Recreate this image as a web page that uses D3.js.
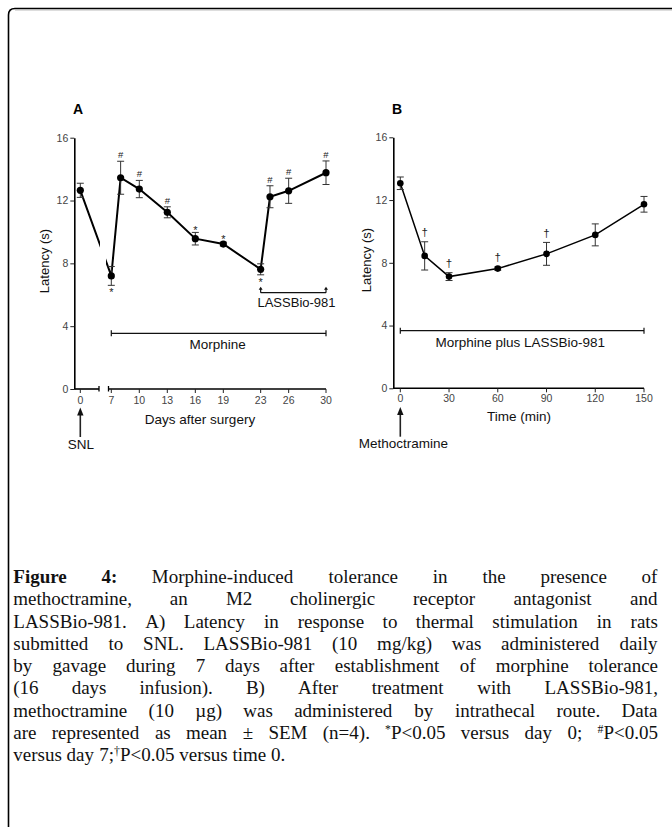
<!DOCTYPE html>
<html><head><meta charset="utf-8">
<script src="https://cdn.jsdelivr.net/npm/d3@7"></script>
<style>
html,body{margin:0;padding:0;background:#fff;}
svg{display:block;}
</style></head>
<body>
<svg id="c" width="672" height="827"></svg>
<script>
// ---------- DATA ----------
const daysA = [0, 7, 8, 10, 13, 16, 19, 23, 24, 26, 30];
const latencyA = [12.65, 7.2, 13.45, 12.73, 11.25, 9.57, 9.23, 7.62, 12.24, 12.62, 13.77];
const semA = [0.45, 0.6, 1.05, 0.55, 0.35, 0.4, 0.12, 0.35, 0.7, 0.8, 0.75];
const sigA = ["", "*", "#", "#", "#", "*", "*", "*", "#", "#", "#"];
const sigBelowA = [false, true, false, false, false, false, false, true, false, false, false];
const tickDaysA = [0, 7, 10, 13, 16, 19, 23, 26, 30];

const timeB = [0, 15, 30, 60, 90, 120, 150];
const latencyB = [13.07, 8.44, 7.12, 7.63, 8.57, 9.78, 11.73];
const semB = [0.4, 0.9, 0.25, 0.1, 0.73, 0.7, 0.5];
const sigB = ["", "†", "†", "†", "†", "", ""];
const tickTimeB = [0, 30, 60, 90, 120, 150];
const tickLatency = [0, 4, 8, 12, 16];

const captionLines = [
  [[{t:"Figure", b:1}], [{t:"4:", b:1}], "Morphine-induced", "tolerance", "in", "the", "presence", "of"],
  ["methoctramine,", "an", "M2", "cholinergic", "receptor", "antagonist", "and"],
  ["LASSBio-981.", "A)", "Latency", "in", "response", "to", "thermal", "stimulation", "in", "rats"],
  ["submitted", "to", "SNL.", "LASSBio-981", "(10", "mg/kg)", "was", "administered", "daily"],
  ["by", "gavage", "during", "7", "days", "after", "establishment", "of", "morphine", "tolerance"],
  ["(16", "days", "infusion).", "B)", "After", "treatment", "with", "LASSBio-981,"],
  ["methoctramine", "(10", "µg)", "was", "administered", "by", "intrathecal", "route.", "Data"],
  ["are", "represented", "as", "mean", "±", "SEM", "(n=4).", [{t:"*", s:1}, {t:"P<0.05"}], "versus", "day", [{t:"0;"}], [{t:"#", s:1}, {t:"P<0.05"}]],
  ["versus", "day", [{t:"7;"}, {t:"†", s:1}, {t:"P<0.05"}], "versus", "time", "0."]
];

// ---------- SETUP ----------
const svg = d3.select("#c");
const SANS = "'Liberation Sans', Arial, sans-serif";
const SERIF = "'Liberation Serif', 'Times New Roman', serif";
const ink = "#111";

// frame
svg.append("path")
  .attr("d", "M8.5,827 L8.5,15 Q8.5,8.5 15,8.5 L672,8.5")
  .attr("fill", "none").attr("stroke", "#000").attr("stroke-width", 1.6);
svg.append("line").attr("x1", 15).attr("x2", 672).attr("y1", 10).attr("y2", 10)
  .attr("stroke", "#aaa").attr("stroke-width", 0.8);

// ---------- PANEL A ----------
const gA = svg.append("g");
const xA = d3.scaleLinear().domain([0, 2, 6.7, 30]).range([80.3, 99, 108.5, 326]);
const yA = d3.scaleLinear().domain([0, 16]).range([389, 137.7]);
const axisXA0 = 74.3;

gA.append("g").attr("transform", `translate(${axisXA0},0)`)
  .call(d3.axisLeft(yA).tickValues(tickLatency).tickSize(4).tickSizeOuter(0).tickPadding(2))
  .call(g => {
    g.select(".domain").attr("stroke", "#000").attr("stroke-width", 1.6);
    g.selectAll(".tick line").attr("stroke", "#222");
    g.selectAll("text").attr("font-family", SANS).attr("font-size", 10.5).attr("fill", "#444");
  });

const xAxisA = gA.append("g").attr("transform", `translate(0,${yA(0)})`);
xAxisA.append("line").attr("x1", axisXA0).attr("x2", xA(2)).attr("stroke", "#000").attr("stroke-width", 1.6);
xAxisA.append("line").attr("x1", xA(6.7)).attr("x2", xA(30)).attr("stroke", "#000").attr("stroke-width", 1.6);
[2, 6.7].forEach(d => xAxisA.append("line").attr("x1", xA(d)).attr("x2", xA(d)).attr("y1", -3).attr("y2", 2.5)
  .attr("stroke", "#000").attr("stroke-width", 1.3));
xAxisA.selectAll(".tk").data(tickDaysA).join("line")
  .attr("x1", d => xA(d)).attr("x2", d => xA(d)).attr("y1", 0).attr("y2", 4)
  .attr("stroke", "#222").attr("stroke-width", 1);
xAxisA.selectAll(".tl").data(tickDaysA).join("text")
  .attr("x", d => xA(d)).attr("y", 15).attr("text-anchor", "middle")
  .attr("font-family", SANS).attr("font-size", 10.5).attr("fill", "#444").text(d => d);

gA.append("text").attr("transform", `translate(49,261) rotate(-90)`).attr("text-anchor", "middle")
  .attr("font-family", SANS).attr("font-size", 13).attr("fill", ink).text("Latency (s)");
gA.append("text").attr("x", 78).attr("y", 114).attr("text-anchor", "middle")
  .attr("font-family", SANS).attr("font-weight", "bold").attr("font-size", 14).attr("fill", "#000").text("A");
gA.append("text").attr("x", 200).attr("y", 424).attr("text-anchor", "middle")
  .attr("font-family", SANS).attr("font-size", 13.5).attr("fill", ink).text("Days after surgery");

const defs = svg.append("defs");
const cp = defs.append("clipPath").attr("id", "brk");
cp.append("rect").attr("x", 0).attr("y", 0).attr("width", 100).attr("height", 827);
cp.append("rect").attr("x", 106).attr("y", 0).attr("width", 566).attr("height", 827);

const ptsA = daysA.map((d, i) => ({x: d, y: latencyA[i], e: semA[i], s: sigA[i], below: sigBelowA[i]}));
const lineA = d3.line().x(d => xA(d.x)).y(d => yA(d.y));
gA.append("path").attr("d", lineA(ptsA)).attr("fill", "none").attr("stroke", "#000")
  .attr("stroke-width", 2).attr("clip-path", "url(#brk)");

function errBars(g, pts, xs, ys, cap) {
  const eb = g.append("g").attr("stroke", "#333").attr("stroke-width", 1).attr("fill", "none");
  pts.forEach(d => {
    const x = xs(d.x), y1 = ys(d.y + d.e), y2 = ys(d.y - d.e);
    eb.append("line").attr("x1", x).attr("x2", x).attr("y1", y1).attr("y2", y2);
    eb.append("line").attr("x1", x - cap).attr("x2", x + cap).attr("y1", y1).attr("y2", y1);
    eb.append("line").attr("x1", x - cap).attr("x2", x + cap).attr("y1", y2).attr("y2", y2);
  });
}
errBars(gA, ptsA, xA, yA, 3.5);
gA.selectAll("circle").data(ptsA).join("circle")
  .attr("cx", d => xA(d.x)).attr("cy", d => yA(d.y)).attr("r", 3.6).attr("fill", "#000");

const sigFont = {"#": 9.5, "*": 11, "†": 11.5};
const sigBase = {"#": 0.36, "*": 0.6, "†": 0.3};
const sigGap = {"#": -6.5, "*": -5.5, "†": -9};
function sigMarks(g, pts, xs, ys) {
  pts.filter(d => d.s).forEach(d => {
    const fs = sigFont[d.s];
    const c = d.below ? ys(d.y - d.e) + 4.5 : ys(d.y + d.e) + sigGap[d.s];
    g.append("text").attr("x", xs(d.x)).attr("y", c + sigBase[d.s] * fs).attr("text-anchor", "middle")
      .attr("font-family", SANS).attr("font-size", fs).attr("fill", "#222").text(d.s);
  });
}
sigMarks(gA, ptsA, xA, yA);

const bY = 292.7;
gA.append("line").attr("x1", xA(23)).attr("x2", xA(30)).attr("y1", bY).attr("y2", bY).attr("stroke", "#111").attr("stroke-width", 1.2);
[23, 30].forEach(d => {
  const x = xA(d);
  gA.append("line").attr("x1", x).attr("x2", x).attr("y1", bY).attr("y2", bY - 4).attr("stroke", "#111").attr("stroke-width", 1.2);
  gA.append("path").attr("d", `M${x - 2},${bY - 3} L${x},${bY - 6} L${x + 2},${bY - 3} Z`).attr("fill", "#111");
});
gA.append("text").attr("x", 296.5).attr("y", 307.3).attr("text-anchor", "middle")
  .attr("font-family", SANS).attr("font-size", 13).attr("fill", ink).text("LASSBio-981");

function bracket(g, x1, x2, y) {
  g.append("line").attr("x1", x1).attr("x2", x2).attr("y1", y).attr("y2", y).attr("stroke", "#111").attr("stroke-width", 1.3);
  [x1, x2].forEach(x => g.append("line").attr("x1", x).attr("x2", x).attr("y1", y - 3).attr("y2", y + 3).attr("stroke", "#111").attr("stroke-width", 1.2));
}
bracket(gA, xA(7), xA(30), 333.3);
gA.append("text").attr("x", 217.6).attr("y", 349).attr("text-anchor", "middle")
  .attr("font-family", SANS).attr("font-size", 13.5).attr("fill", ink).text("Morphine");

function upArrow(g, x, yTip, yEnd) {
  g.append("line").attr("x1", x).attr("x2", x).attr("y1", yTip + 5).attr("y2", yEnd).attr("stroke", "#222").attr("stroke-width", 1.6);
  g.append("path").attr("d", `M${x - 3.2},${yTip + 8} L${x},${yTip} L${x + 3.2},${yTip + 8} Z`).attr("fill", "#111");
}
upArrow(gA, xA(0), 407.5, 437);
gA.append("text").attr("x", 81).attr("y", 449).attr("text-anchor", "middle")
  .attr("font-family", SANS).attr("font-size", 13.5).attr("fill", ink).text("SNL");

// ---------- PANEL B ----------
const gB = svg.append("g");
const xB = d3.scaleLinear().domain([0, 150]).range([400.3, 644]);
const yB = d3.scaleLinear().domain([0, 16]).range([388.3, 137.3]);
const axisXB0 = 393.3;

gB.append("g").attr("transform", `translate(${axisXB0},0)`)
  .call(d3.axisLeft(yB).tickValues(tickLatency).tickSize(4).tickSizeOuter(0).tickPadding(2))
  .call(g => {
    g.select(".domain").attr("stroke", "#000").attr("stroke-width", 1.6);
    g.selectAll(".tick line").attr("stroke", "#222");
    g.selectAll("text").attr("font-family", SANS).attr("font-size", 10.5).attr("fill", "#444");
  });
const xAxisB = gB.append("g").attr("transform", `translate(0,${yB(0)})`);
xAxisB.append("line").attr("x1", axisXB0).attr("x2", xB(150)).attr("stroke", "#000").attr("stroke-width", 1.6);
xAxisB.selectAll(".tk").data(tickTimeB).join("line")
  .attr("x1", d => xB(d)).attr("x2", d => xB(d)).attr("y1", 0).attr("y2", 4)
  .attr("stroke", "#222").attr("stroke-width", 1);
xAxisB.selectAll(".tl").data(tickTimeB).join("text")
  .attr("x", d => xB(d)).attr("y", 14).attr("text-anchor", "middle")
  .attr("font-family", SANS).attr("font-size", 10.5).attr("fill", "#444").text(d => d);

gB.append("text").attr("transform", `translate(371,260) rotate(-90)`).attr("text-anchor", "middle")
  .attr("font-family", SANS).attr("font-size", 13).attr("fill", ink).text("Latency (s)");
gB.append("text").attr("x", 397).attr("y", 114).attr("text-anchor", "middle")
  .attr("font-family", SANS).attr("font-weight", "bold").attr("font-size", 14).attr("fill", "#000").text("B");
gB.append("text").attr("x", 519).attr("y", 420.7).attr("text-anchor", "middle")
  .attr("font-family", SANS).attr("font-size", 13.5).attr("fill", ink).text("Time (min)");

const ptsB = timeB.map((d, i) => ({x: d, y: latencyB[i], e: semB[i], s: sigB[i], below: false}));
const lineB = d3.line().x(d => xB(d.x)).y(d => yB(d.y));
gB.append("path").attr("d", lineB(ptsB)).attr("fill", "none").attr("stroke", "#000").attr("stroke-width", 1.5);
errBars(gB, ptsB, xB, yB, 3.5);
gB.selectAll("circle").data(ptsB).join("circle")
  .attr("cx", d => xB(d.x)).attr("cy", d => yB(d.y)).attr("r", 3.3).attr("fill", "#000");
sigMarks(gB, ptsB, xB, yB);

bracket(gB, xB(0), xB(150), 330.7);
gB.append("text").attr("x", 520.3).attr("y", 346.7).attr("text-anchor", "middle")
  .attr("font-family", SANS).attr("font-size", 13.5).attr("fill", ink).text("Morphine plus LASSBio-981");
upArrow(gB, xB(0), 407, 436.7);
gB.append("text").attr("x", 403.3).attr("y", 448.3).attr("text-anchor", "middle")
  .attr("font-family", SANS).attr("font-size", 13.5).attr("fill", ink).text("Methoctramine");

// ---------- CAPTION ----------
const capG = svg.append("g");
const capX0 = 13.3, capX1 = 658, capY0 = 583, capDY = 22.25;
function norm(w) { return typeof w === "string" ? [{t: w}] : w; }
function makeWord(g, segs, fs) {
  const t = g.append("text").attr("font-family", SERIF).attr("font-size", fs).attr("fill", "#111");
  segs.forEach(s => {
    const sp = t.append("tspan").text(s.t);
    if (s.b) sp.attr("font-weight", "bold");
    if (s.s) sp.attr("font-size", fs * 0.62).attr("baseline-shift", "super");
  });
  return t;
}
// calibrate font size on line 3, which is set at nearly natural spacing
const probe = capG.append("g");
const spW16 = makeWord(probe, [{t: "a a"}], 16).node().getComputedTextLength()
  - 2 * makeWord(probe, [{t: "a"}], 16).node().getComputedTextLength();
const refLine = captionLines[2].map(norm);
let testW = 0;
refLine.forEach(w => { testW += makeWord(probe, w, 16).node().getBBox().width; });
testW += spW16 * (refLine.length - 1);
probe.remove();
let fs = 16 * 638 / testW;
fs = Math.max(15, Math.min(19, fs));

captionLines.forEach((line, li) => {
  const words = line.map(norm);
  const y = capY0 + li * capDY;
  const els = words.map(w => makeWord(capG, w, fs).attr("y", y));
  const widths = els.map(e => e.node().getBBox().width);
  const total = d3.sum(widths);
  const isLast = li === captionLines.length - 1;
  const gap = isLast ? spW16 * fs / 16 : (capX1 - capX0 - total) / (words.length - 1);
  let x = capX0;
  els.forEach((e, i) => { e.attr("x", x); x += widths[i] + gap; });
});
</script>
</body></html>
